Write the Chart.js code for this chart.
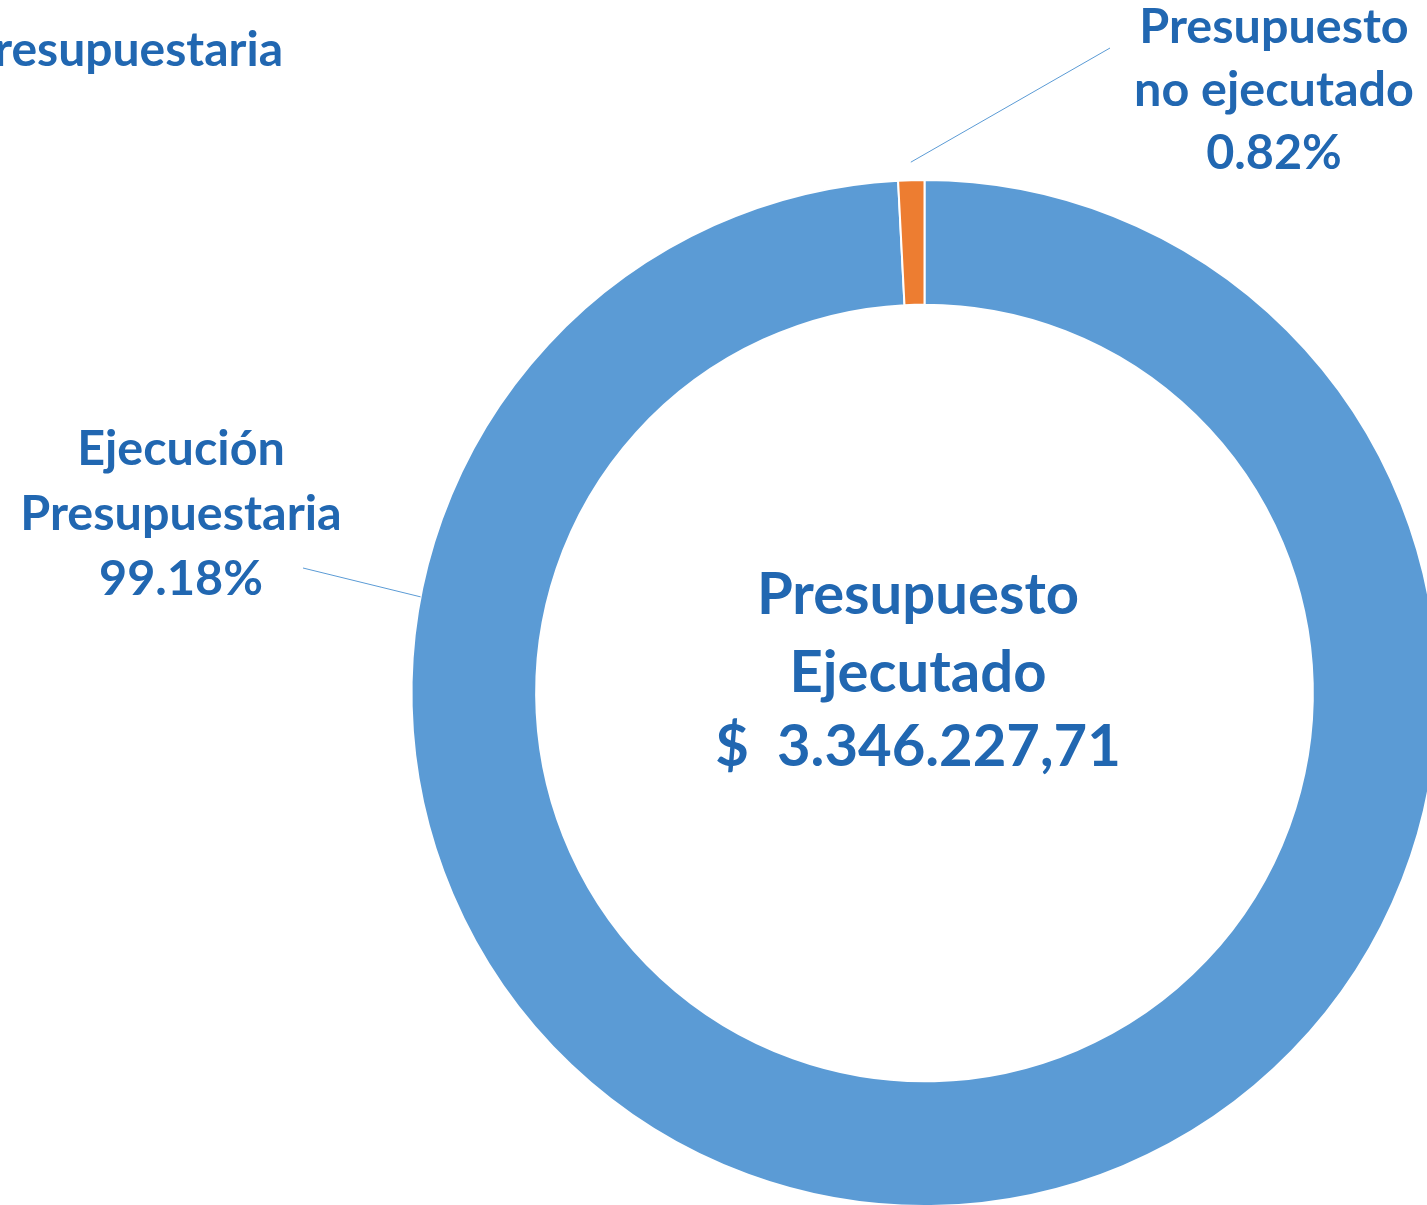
<!DOCTYPE html>
<html>
<head>
<meta charset="utf-8">
<script src="https://cdn.jsdelivr.net/npm/chart.js@4/dist/chart.umd.min.js"></script>
<style>
  html, body { margin:0; padding:0; overflow:hidden; background:#fff; width:1427px; height:1205px; }
  #wrap { position:absolute; left:0; top:0; width:1500px; height:1300px; }
</style>
</head>
<body>
<div id="wrap"><canvas id="c"></canvas></div>
<script>
// ---- data ----
const categories = ['Ejecución Presupuestaria', 'Presupuesto no ejecutado'];
const percentValues = [99.18, 0.82];
const labelLines = [['Ejecución', 'Presupuestaria'], ['Presupuesto', 'no ejecutado']];
const chartTitle = 'Ejecución Presupuestaria';
const centerLines = ['Presupuesto', 'Ejecutado', '$  3.346.227,71'];
const sliceColors = ['#5B9BD5', '#ED7D31'];

// ---- styles / placement ----
const TEXT_COLOR = '#2167B1';
const FONT = 'Lato, "Open Sans", sans-serif';

const labelPlacement = [
  { cx: 181, baseline: 465, lineH: 65, anchorAngleDeg: 190.8, anchorR: 0, endX: 303, endY: 568 },
  { cx: 1274, baseline: 43, lineH: 63, anchorAngleDeg: null, anchorR: 18, endX: 1110, endY: 48 }
];

const labelPlugin = {
  id: 'donutLabels',
  afterDraw(chart) {
    const ctx = chart.ctx;
    const meta = chart.getDatasetMeta(0);
    const arcs = meta.data;
    const cX = arcs[0].x, cY = arcs[0].y;
    const outerR = arcs[0].outerRadius;
    ctx.save();

    // title (partly outside the canvas at the left)
    ctx.fillStyle = TEXT_COLOR;
    ctx.font = 'bold 48px ' + FONT;
    ctx.textAlign = 'right';
    ctx.textBaseline = 'alphabetic';
    ctx.fillText(chartTitle, 283, 66);

    // center text
    ctx.font = 'bold 58px ' + FONT;
    ctx.textAlign = 'center';
    const cBase = [614, 692, 766];
    centerLines.forEach((t, i) => ctx.fillText(t, cX - 6.5, cBase[i]));

    // data labels with leader lines
    const total = percentValues.reduce((a, b) => a + b, 0);
    arcs.forEach((arc, i) => {
      const p = labelPlacement[i];
      let ang;
      if (p.anchorAngleDeg !== null) ang = p.anchorAngleDeg * Math.PI / 180;
      else ang = (arc.startAngle + arc.endAngle) / 2;
      const r = outerR + p.anchorR;
      const sx = cX + Math.cos(ang) * r;
      const sy = cY + Math.sin(ang) * r;
      ctx.strokeStyle = '#5B9BD5';
      ctx.lineWidth = 1;
      ctx.beginPath();
      ctx.moveTo(sx, sy);
      ctx.lineTo(p.endX, p.endY);
      ctx.stroke();

      const pct = (percentValues[i] / total * 100).toFixed(2) + '%';
      const lines = labelLines[i].concat([pct]);
      ctx.fillStyle = TEXT_COLOR;
      ctx.font = 'bold 48.5px ' + FONT;
      ctx.textAlign = 'center';
      lines.forEach((t, k) => ctx.fillText(t, p.cx, p.baseline + k * p.lineH));
    });
    ctx.restore();
  }
};

function build() {
  new Chart(document.getElementById('c'), {
    type: 'doughnut',
    data: {
      labels: categories,
      datasets: [{
        data: percentValues,
        backgroundColor: sliceColors,
        borderColor: '#ffffff',
        borderWidth: 2,
        hoverOffset: 0
      }]
    },
    options: {
      responsive: true,
      maintainAspectRatio: false,
      animation: false,
      radius: 513,
      cutout: '75.7%',
      layout: { padding: { left: 374.5, top: 143, right: 25.5, bottom: 57 } },
      plugins: { legend: { display: false }, tooltip: { enabled: false }, title: { display: false } },
      events: []
    },
    plugins: [labelPlugin]
  });
}

Promise.all([
  document.fonts.load('bold 58px Lato'),
  document.fonts.load('bold 48px Lato')
]).then(build, build);
</script>
</body>
</html>
